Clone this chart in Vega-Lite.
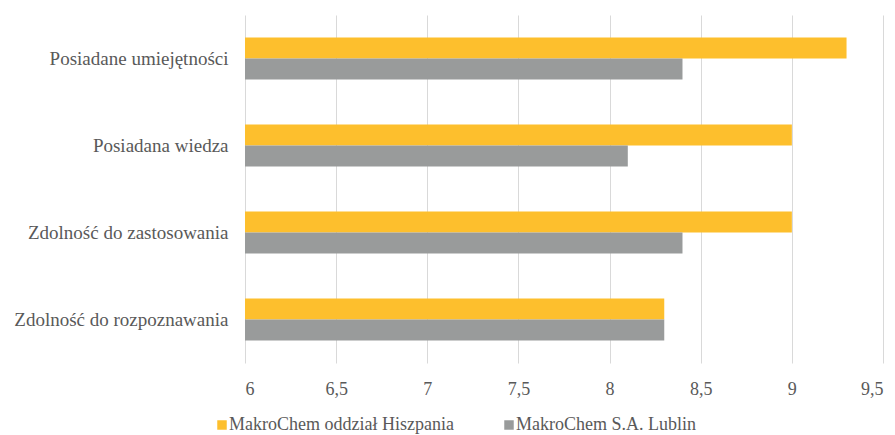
{
  "$schema": "https://vega.github.io/schema/vega-lite/v6.json",
  "autosize": {"type": "none"},
  "padding": {"left": 245, "top": 15, "right": 12, "bottom": 72},
  "width": 638,
  "height": 348,
  "background": "white",
  "config": {
    "view": {"stroke": null},
    "font": "Liberation Serif",
    "axis": {"labelFont": "Liberation Serif", "labelColor": "#595959"},
    "legend": {"labelFont": "Liberation Serif", "labelColor": "#595959"}
  },
  "data": {
    "values": [
      {"category": "Posiadane umiejętności", "series": "MakroChem oddział Hiszpania", "value": 9.3},
      {"category": "Posiadane umiejętności", "series": "MakroChem S.A. Lublin", "value": 8.4},
      {"category": "Posiadana wiedza", "series": "MakroChem oddział Hiszpania", "value": 9.0},
      {"category": "Posiadana wiedza", "series": "MakroChem S.A. Lublin", "value": 8.1},
      {"category": "Zdolność do zastosowania", "series": "MakroChem oddział Hiszpania", "value": 9.0},
      {"category": "Zdolność do zastosowania", "series": "MakroChem S.A. Lublin", "value": 8.4},
      {"category": "Zdolność do rozpoznawania", "series": "MakroChem oddział Hiszpania", "value": 8.3},
      {"category": "Zdolność do rozpoznawania", "series": "MakroChem S.A. Lublin", "value": 8.3}
    ]
  },
  "mark": {"type": "bar", "clip": true},
  "encoding": {
    "y": {
      "field": "category",
      "type": "nominal",
      "sort": ["Posiadane umiejętności", "Posiadana wiedza", "Zdolność do zastosowania", "Zdolność do rozpoznawania"],
      "scale": {"paddingInner": 0.517, "paddingOuter": 0.2585},
      "axis": {
        "title": null,
        "ticks": false,
        "domain": false,
        "grid": false,
        "labelFont": "Liberation Serif",
        "labelFontSize": 19,
        "labelPadding": 17,
        "labelLimit": 300
      }
    },
    "yOffset": {
      "field": "series",
      "type": "nominal",
      "sort": ["MakroChem oddział Hiszpania", "MakroChem S.A. Lublin"]
    },
    "x": {
      "field": "value",
      "type": "quantitative",
      "scale": {"domain": [6, 9.5], "zero": false, "nice": false},
      "axis": {
        "title": null,
        "values": [6, 6.5, 7, 7.5, 8, 8.5, 9, 9.5],
        "labelExpr": "replace(format(datum.value, '~g'), '.', ',')",
        "ticks": false,
        "domain": false,
        "grid": true,
        "gridColor": "#d9d9d9",
        "gridWidth": 1,
        "labelFont": "Liberation Serif",
        "labelFontSize": 18,
        "labelPadding": 17
      }
    },
    "x2": {"datum": 6},
    "color": {
      "field": "series",
      "type": "nominal",
      "sort": ["MakroChem oddział Hiszpania", "MakroChem S.A. Lublin"],
      "scale": {"domain": ["MakroChem oddział Hiszpania", "MakroChem S.A. Lublin"], "range": ["#FDBF2D", "#999B9B"]},
      "legend": {
        "title": null,
        "orient": "none",
        "direction": "horizontal",
        "legendX": -32,
        "legendY": 401,
        "padding": 0,
        "symbolType": "square",
        "symbolSize": 90,
        "symbolStrokeWidth": 0,
        "symbolOpacity": 1,
        "labelFont": "Liberation Serif",
        "labelFontSize": 18,
        "labelOffset": -2,
        "columnPadding": 46,
        "labelLimit": 400
      }
    }
  }
}
